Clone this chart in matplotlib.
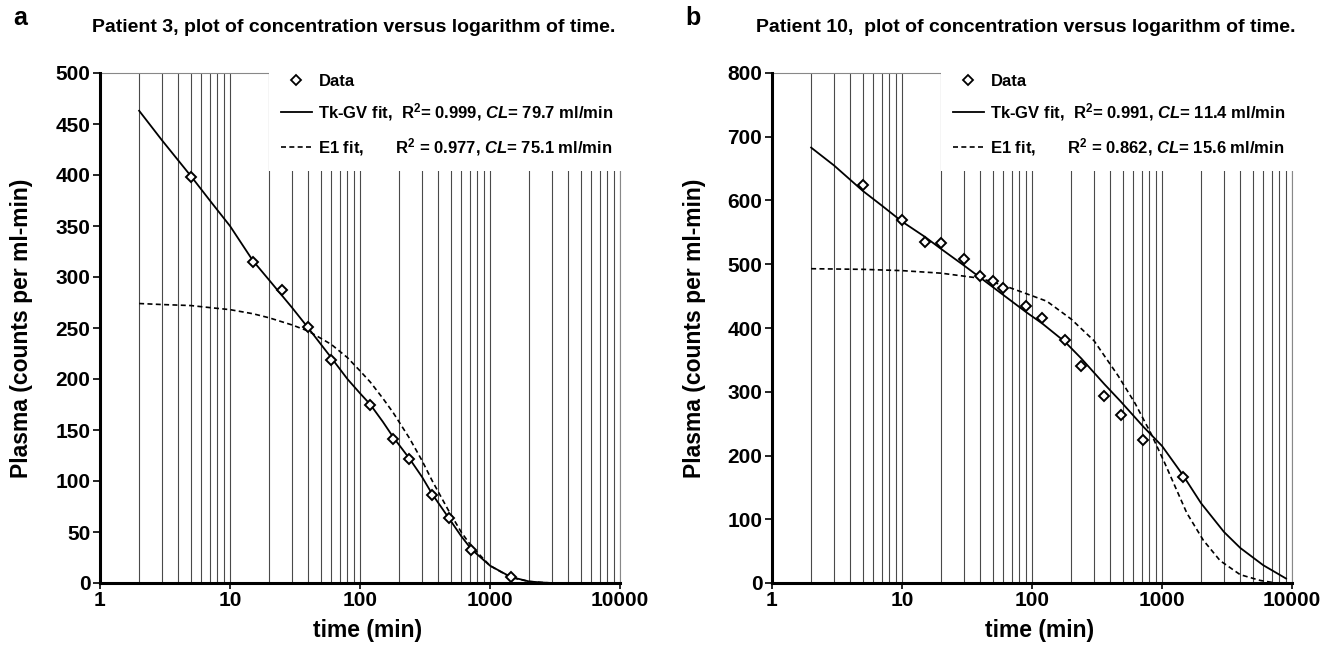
import numpy as np
import matplotlib
matplotlib.use('Agg')
import matplotlib.pyplot as plt
from matplotlib.lines import Line2D
from matplotlib.patches import Rectangle
from matplotlib.ticker import LogLocator, NullFormatter

plt.rcParams['font.family'] = ['Liberation Sans', 'DejaVu Sans']
plt.rcParams['font.weight'] = 'bold'
plt.rcParams['mathtext.fontset'] = 'custom'
plt.rcParams['mathtext.rm'] = 'Liberation Sans:bold'
plt.rcParams['mathtext.it'] = 'Liberation Sans:bold:italic'
plt.rcParams['mathtext.bf'] = 'Liberation Sans:bold'
plt.rcParams['mathtext.default'] = 'rm'

# ---- panel a : patient 3 ----
t_a = [5, 15, 25, 40, 60, 120, 180, 240, 360, 480, 720, 1440]
c_a = [398, 315, 287, 251, 219, 175, 141, 122, 86, 64, 32, 6]

fit_t_a = [2, 3, 5, 7, 10, 15, 20, 30, 40, 60, 80, 100, 120, 150, 180, 240,
           300, 360, 480, 600, 720, 1000, 1440, 2000, 2500, 3000]
tkgv_a = [463, 434, 399, 375, 350, 316, 297, 270, 250, 221, 200, 186, 175, 158,
          143, 122, 104, 87, 64, 46, 33, 17, 6, 1.5, 0.5, 0]
e1_a = [274, 273, 272, 270, 268, 264, 260, 253, 247, 234, 221, 208, 197, 181,
        167, 142, 120, 100, 71, 50, 36, 17, 5.5, 1.5, 0.5, 0]

# ---- panel b : patient 10 ----
t_b = [5, 10, 15, 20, 30, 40, 50, 60, 90, 120, 180, 240, 360, 480, 720, 1440]
c_b = [625, 570, 535, 534, 509, 481, 474, 462, 435, 416, 381, 340, 293, 264, 225, 167]

fit_t_b = [2, 3, 5, 7, 10, 15, 20, 30, 40, 60, 90, 120, 180, 240, 360, 480,
           720, 1000, 1440, 2000, 3000, 4000, 6000, 9000]
tkgv_b = [683, 655, 615, 592, 567, 543, 524, 498, 479, 452, 425, 407, 378, 352,
          312, 285, 245, 215, 170, 125, 80, 55, 28, 7]
e1_t_b = [2, 5, 10, 20, 40, 60, 90, 130, 200, 300, 460, 620, 820, 1040, 1550,
          2080, 2800, 4000, 5700, 7000]
e1_b = [493, 492, 490, 486, 478, 467, 454, 442, 414, 380, 325, 282, 235, 190,
        110, 67, 35, 13, 4, 1]

x_ticks = [1, 10, 100, 1000, 10000]
x_labels = ['1', '10', '100', '1000', '10000']

panels = [
    dict(t=t_a, c=c_a, ft=fit_t_a, tk=tkgv_a, et=fit_t_a, e1=e1_a, ymax=500, ystep=50,
         title='Patient 3, plot of concentration versus logarithm of time.',
         tklab=r'Tk-GV fit,  R$^{2}$= 0.999, $\it{CL}$= 79.7 ml/min',
         e1lab=r'E1 fit,       R$^{2}$ = 0.977, $\it{CL}$= 75.1 ml/min',
         letter='a', left=100),
    dict(t=t_b, c=c_b, ft=fit_t_b, tk=tkgv_b, et=e1_t_b, e1=e1_b, ymax=800, ystep=100,
         title='Patient 10,  plot of concentration versus logarithm of time.',
         tklab=r'Tk-GV fit,  R$^{2}$= 0.991, $\it{CL}$= 11.4 ml/min',
         e1lab=r'E1 fit,       R$^{2}$ = 0.862, $\it{CL}$= 15.6 ml/min',
         letter='b', left=772),
]

W, H = 1336, 646
fig = plt.figure(figsize=(W / 100, H / 100), dpi=100)

for p in panels:
    ax = fig.add_axes([p['left'] / W, 63 / H, 520 / W, 510 / H])
    ax.set_xscale('log')
    ax.set_xlim(1, 10000)
    ax.set_ylim(0, p['ymax'])

    ax.xaxis.set_minor_locator(LogLocator(base=10, subs=np.arange(2, 10)))
    ax.xaxis.set_minor_formatter(NullFormatter())
    ax.set_xticks(x_ticks)
    ax.set_xticklabels(x_labels)
    ax.set_yticks(np.arange(0, p['ymax'] + 1, p['ystep']))
    ax.grid(True, which='both', axis='x', color='#4a4a4a', lw=0.8)
    ax.tick_params(which='minor', length=0)
    ax.tick_params(axis='y', direction='out', length=5, width=1.2, labelsize=15, pad=2)
    ax.tick_params(axis='x', which='major', direction='out', length=4, width=1.2,
                   labelsize=15, pad=2)

    for s in ['left', 'bottom']:
        ax.spines[s].set_linewidth(2.2)
        ax.spines[s].set_zorder(4)
    for s in ['top', 'right']:
        ax.spines[s].set_color('#888888')
        ax.spines[s].set_linewidth(0.8)

    ax.plot(p['ft'], p['tk'], color='black', lw=1.3, zorder=3)
    ax.plot(p['et'], p['e1'], color='black', lw=1.2, ls=(0, (3, 2)), zorder=3)
    ax.plot(p['t'], p['c'], ls='none', marker='D', ms=5.5, mfc='white', mec='black',
            mew=1.4, zorder=3.5)

    # white legend area hiding the gridlines
    x20 = np.log10(20) / 4
    ax.add_patch(Rectangle((x20, 0.808), 1.05 - x20, 0.3, transform=ax.transAxes,
                           facecolor='white', edgecolor='none', zorder=4.5, clip_on=False))

    handles = [
        Line2D([], [], ls='none', marker='D', ms=5, mfc='white', mec='black', mew=1.3),
        Line2D([], [], color='black', lw=1.3),
        Line2D([], [], color='black', lw=1.2, ls=(0, (3, 2))),
    ]
    leg = ax.legend(handles, ['Data', p['tklab'], p['e1lab']], loc='upper left',
                    bbox_to_anchor=((281 - 100) / 520, 0.998), frameon=False,
                    borderpad=0, borderaxespad=0, fontsize=12, handlelength=1.85,
                    handletextpad=0.4, labelspacing=0.75, numpoints=1)
    leg.set_zorder(6)

    fig.text((p['left'] + 254) / W, 1 - 28 / H, p['title'], ha='center', va='center',
             fontsize=14, fontweight='bold')
    fig.text((p['left'] - 87) / W, 1 - 18 / H, p['letter'], ha='left', va='center',
             fontsize=18, fontweight='bold')
    fig.text((p['left'] - 78) / W, 1 - 328 / H, 'Plasma (counts per ml-min)', rotation=90,
             ha='center', va='center', fontsize=16.5, fontweight='bold')
    fig.text((p['left'] + 268) / W, 1 - 630 / H, 'time (min)', ha='center', va='center',
             fontsize=16.5, fontweight='bold')

fig.savefig('out.png', dpi=100)
